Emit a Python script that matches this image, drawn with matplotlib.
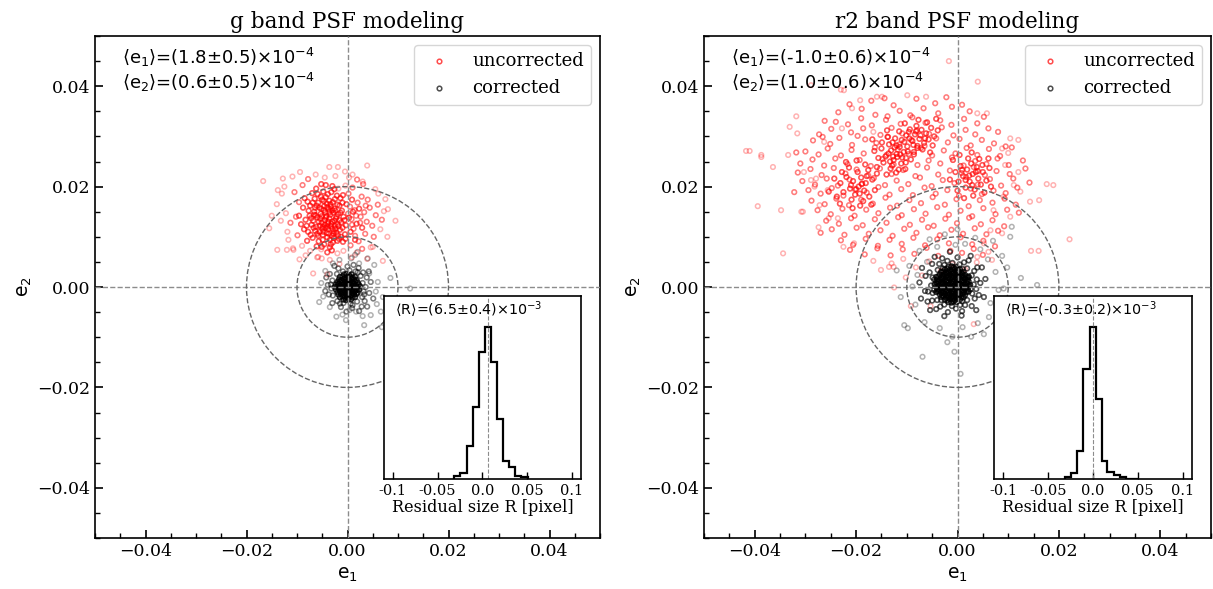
import numpy as np
import matplotlib
matplotlib.use("Agg")
import matplotlib.pyplot as plt
from matplotlib.patches import Circle
from matplotlib.ticker import MultipleLocator

plt.rcParams["font.family"] = "DejaVu Serif"
plt.rcParams["mathtext.fontset"] = "dejavusans"
plt.rcParams["axes.linewidth"] = 1.2

# ellipticities below in units of 1e-3
E_UNIT = 1e-3

# =========================
# g band
# =========================
g_unc_dense = [
    (-3.0, 13.0), (-4.2, 14.1), (-2.5, 12.2), (-5.1, 12.8), (-3.8, 11.5), (-1.9, 14.5), (-4.7, 15.3), (-3.3, 16.0),
    (-6.0, 13.9), (-2.2, 10.8), (-5.5, 11.0), (-4.0, 9.9), (-1.2, 12.9), (-6.6, 15.0), (-3.6, 17.2), (-2.8, 14.8),
    (-4.5, 13.3), (-5.8, 16.8), (-2.0, 16.4), (-7.1, 12.4), (-3.1, 10.2), (-4.9, 10.4), (-1.5, 11.4), (-6.4, 11.2),
    (-3.9, 12.6), (-2.6, 15.6), (-5.3, 14.6), (-0.8, 14.0), (-7.5, 14.2), (-4.3, 17.9), (-1.0, 16.8), (-6.9, 9.8),
    (-2.9, 8.9), (-4.6, 8.5), (-0.5, 10.5), (-3.4, 14.4), (-5.0, 17.4), (-2.3, 13.6), (-6.2, 12.0), (-3.7, 15.5),
    (-4.4, 11.8), (-1.7, 9.6), (-5.7, 9.1), (-7.8, 11.0), (-8.3, 13.4), (-2.1, 18.2), (-0.3, 12.3), (-6.5, 17.6),
    (-3.2, 18.9), (-4.8, 19.0), (-7.4, 16.2), (-8.8, 15.8), (-1.4, 17.7), (-5.9, 18.5), (-3.5, 7.9), (-2.4, 11.6),
    (-4.1, 16.6), (-6.8, 13.2), (-5.4, 13.6), (-1.1, 15.2), (-7.0, 18.7), (-3.0, 20.1), (-5.2, 20.5), (-8.5, 17.7),
    (-9.2, 12.5), (-0.9, 9.0), (-2.7, 9.8), (-6.1, 8.1), (-4.0, 6.9), (-8.0, 9.2), (-3.6, 13.7), (-4.9, 12.0),
    (-2.7, 11.1), (-3.3, 12.1), (-4.1, 10.8), (-5.6, 15.8), (-2.9, 16.9), (-4.4, 14.9), (-3.8, 13.0), (-5.0, 11.6),
    (-6.3, 14.3), (-2.0, 12.5), (-3.5, 9.4), (-4.6, 16.1), (-1.6, 13.3), (-5.8, 10.2), (-3.0, 15.3), (-6.9, 16.8),
    (-3.2, 12.6), (-4.5, 12.4), (-2.2, 14.0), (-5.7, 13.0), (-3.7, 10.6), (-1.4, 14.8), (-4.0, 15.9), (-2.5, 17.5),
    (-6.4, 15.8), (-4.9, 9.4), (-2.0, 9.2), (-6.0, 10.6), (-7.2, 13.7), (-0.6, 13.3), (-3.9, 18.5), (-5.3, 18.0),
    (-1.6, 16.2), (-7.7, 15.2), (-4.8, 11.0), (-3.0, 11.6), (-2.6, 13.2), (-4.3, 13.8), (-5.2, 15.6), (-3.4, 16.5),
    (-6.7, 11.8), (-1.9, 10.3), (-5.5, 12.2), (-3.6, 14.9), (-2.8, 10.6), (-4.7, 17.1), (-7.3, 10.4), (-1.0, 11.8),
    (-6.1, 16.2), (-2.4, 15.2), (-3.3, 8.5), (-5.1, 14.1), (-4.0, 12.0), (-6.6, 14.4), (-1.3, 10.0), (-8.1, 12.2),
    (0.3, 13.8), (1.1, 15.0), (0.6, 11.0), (1.8, 12.6), (-0.2, 16.5), (2.3, 15.6), (0.9, 17.4), (-0.4, 9.6),
    (1.5, 9.4), (2.9, 11.8), (-1.8, 12.1), (-0.9, 18.3), (-2.6, 19.5), (-7.9, 17.0), (-9.6, 14.2), (-8.6, 11.5),
    (-6.2, 19.6), (-4.3, 20.3), (-3.1, 7.3), (-5.1, 8.0),
]
g_unc_mid = [
    (0.8, 13.5), (1.7, 14.2), (2.5, 12.8), (1.2, 11.6), (3.3, 14.9), (0.5, 16.0), (2.0, 16.8), (3.8, 13.0),
    (1.5, 10.2), (4.4, 15.8), (2.8, 18.0), (0.2, 18.6), (4.9, 12.2), (3.5, 10.6), (1.0, 19.8), (5.6, 14.3),
    (2.2, 9.1), (4.0, 17.4), (0.6, 8.3), (6.0, 16.4), (5.2, 10.0), (3.1, 20.5), (1.9, 21.4), (6.8, 13.4),
    (2.9, 7.6), (1.4, 15.3), (2.6, 14.0), (0.9, 12.4), (3.6, 16.2), (0.1, 14.6),
    (-10.2, 14.0), (-9.6, 16.9), (-11.3, 12.8), (-10.5, 18.9), (-9.9, 10.3), (-8.9, 20.3), (-7.8, 21.5),
]
g_unc_sparse = [
    (-12.2, 14.7), (-11.7, 9.4), (-6.3, 22.4), (-4.5, 21.8), (-2.4, 22.1), (-13.2, 13.2), (-10.8, 7.7),
    (-8.3, 6.3), (-6.0, 5.9), (-5.2, 7.5), (-2.0, 6.7), (-0.8, 7.2), (0.9, 5.9), (1.8, 6.8), (3.9, 5.6),
    (4.6, 7.9), (-1.6, 4.6), (-9.0, 8.2), (-7.4, 7.2), (-11.9, 11.0), (7.9, 10.0), (7.2, 15.1), (6.1, 18.6),
    (-13.8, 19.3), (-15.0, 14.2), (-12.8, 21.6), (0.3, 21.8), (-0.4, 20.2), (-1.8, 19.6),
    (-16.7, 21.1), (-10.9, 22.0), (-9.4, 22.9), (-3.6, 23.9), (-1.9, 23.9), (3.9, 24.2), (9.5, 13.2),
    (-15.5, 11.7), (-13.9, 7.4), (-12.0, 7.4), (7.0, 5.2), (-5.8, 6.0), (-3.5, 5.4), (-0.5, 23.0), (1.0, 22.4),
    (3.0, 21.0), (-12.5, 20.0), (-13.0, 18.6), (-14.0, 16.5), (8.0, 15.5), (7.5, 17.5), (5.5, 19.5), (6.5, 11.5),
    (5.0, 8.0), (-9.5, 5.5), (-6.8, 2.7), (-5.1, 5.7), (-10.7, 7.4), (-0.5, 1.5), (-4.0, 2.5),
]
g_cor_core = [
    (-0.8, -2.5), (-0.3, -2.6), (0.2, -2.4), (0.7, -2.5),
    (-1.5, -2.0), (-1.0, -1.9), (-0.5, -2.1), (0.0, -2.0), (0.5, -1.9), (1.0, -2.1), (1.5, -2.0),
    (-1.8, -1.5), (-1.3, -1.4), (-0.8, -1.6), (-0.2, -1.5), (0.3, -1.4), (0.8, -1.6), (1.3, -1.5), (1.8, -1.4),
    (-2.0, -1.0), (-1.5, -0.9), (-1.0, -1.1), (-0.5, -1.0), (0.0, -0.9), (0.5, -1.1), (1.0, -1.0), (1.5, -0.9),
    (2.0, -1.1),
    (-2.3, -0.5), (-1.7, -0.4), (-1.2, -0.6), (-0.7, -0.5), (-0.2, -0.4), (0.3, -0.6), (0.8, -0.5), (1.3, -0.4),
    (1.8, -0.6), (2.3, -0.5),
    (-2.5, 0.0), (-2.0, 0.1), (-1.5, -0.1), (-1.0, 0.0), (-0.5, 0.1), (0.0, -0.1), (0.5, 0.0), (1.0, 0.1),
    (1.5, -0.1), (2.0, 0.0), (2.5, 0.1),
    (-2.3, 0.5), (-1.8, 0.6), (-1.3, 0.4), (-0.8, 0.5), (-0.3, 0.6), (0.2, 0.4), (0.7, 0.5), (1.2, 0.6),
    (1.7, 0.4), (2.2, 0.5),
    (-2.0, 1.0), (-1.5, 1.1), (-1.0, 0.9), (-0.5, 1.0), (0.0, 1.1), (0.5, 0.9), (1.0, 1.0), (1.5, 1.1), (2.0, 0.9),
    (-1.7, 1.5), (-1.2, 1.4), (-0.7, 1.6), (-0.2, 1.5), (0.3, 1.4), (0.8, 1.6), (1.3, 1.5), (1.8, 1.4),
    (-1.5, 2.0), (-1.0, 2.1), (-0.5, 1.9), (0.0, 2.0), (0.5, 2.1), (1.0, 1.9), (1.5, 2.0),
    (-0.7, 2.5), (-0.2, 2.6), (0.3, 2.4), (0.8, 2.5),
]
g_cor_edge = [
    (3.0, 0.8), (3.2, -0.9), (2.9, -2.0), (2.6, 2.2), (1.6, 3.1), (0.4, 3.3), (-0.9, 3.1), (-2.1, 2.6),
    (-3.0, 1.3), (-3.2, -0.3), (-2.9, -1.7), (-2.0, -2.8), (-0.8, -3.2), (0.6, -3.3), (1.9, -2.9), (3.6, 0.0),
    (3.8, 1.9), (3.4, -2.8), (2.2, 3.8), (0.0, 4.1), (-1.8, 3.7), (-3.5, 2.6), (-3.9, 0.4), (-3.7, -1.5),
    (-3.0, -3.2), (-1.3, -4.0), (0.9, -4.2), (2.8, -3.9), (4.3, -1.2), (4.6, 1.0), (3.9, -3.9), (-4.4, -0.8),
    (1.2, 4.4), (-2.6, 4.2), (4.2, 3.1), (2.3, -4.8), (-0.2, -4.9), (5.1, -2.3), (-4.2, 1.9), (3.1, 2.9),
    (-3.3, 0.5), (3.3, -1.5), (-1.5, -3.3), (1.0, -3.6), (2.0, 2.9),
]
g_cor_sparse = [
    (-2.9, 4.7), (-1.6, 5.4), (0.7, 5.7), (2.3, 4.7), (4.0, 5.7), (5.3, 4.4), (4.3, 2.7), (5.6, -0.9),
    (-4.8, -1.9), (-0.3, -6.6), (1.7, -4.9), (4.6, -5.6), (6.6, -4.9), (3.3, -7.6), (0.4, -4.6), (12.4, -0.3),
    (7.0, -2.0), (-5.2, 0.8), (-4.4, 3.2), (2.0, 7.0), (8.5, 1.8), (-1.0, -5.5), (6.0, 1.0), (3.0, -5.8),
    (-3.5, -4.0), (6.8, -8.0), (-5.6, -3.0), (5.8, -3.4), (-2.2, -5.9), (1.5, 6.4),
]
g_e1_text = r"$\langle$e$_1\rangle$=(1.8$\pm$0.5)$\times$10$^{-4}$"
g_e2_text = r"$\langle$e$_2\rangle$=(0.6$\pm$0.5)$\times$10$^{-4}$"
g_R_text = r"$\langle$R$\rangle$=(6.5$\pm$0.4)$\times$10$^{-3}$"
g_R_mean = 6.5e-3
g_R_counts = [8, 17, 98, 215, 382, 457, 350, 180, 55, 35, 10, 5]

# =========================
# r2 band
# =========================
r2_unc_dense = [
    (-12.0, 26.5), (-13.1, 27.2), (-10.9, 25.8), (-12.6, 25.3), (-11.4, 27.9), (-14.2, 26.0), (-9.8, 27.0),
    (-13.5, 28.4), (-10.5, 28.9), (-12.9, 24.2), (-11.1, 24.6), (-15.0, 27.6), (-9.2, 25.4), (-14.6, 24.8),
    (-12.3, 29.6), (-10.1, 30.2), (-15.6, 25.7), (-8.7, 28.3), (-13.8, 29.9), (-11.6, 23.4), (-12.4, 27.8),
    (-11.9, 25.9), (-13.6, 26.6), (-10.6, 26.9), (-12.8, 28.8), (-11.0, 29.3), (-14.9, 28.8), (-9.5, 29.6),
    (-13.2, 23.6), (-16.4, 27.1), (-12.1, 22.8), (-10.3, 23.5), (-14.0, 22.4), (-8.6, 26.4), (-15.9, 23.9),
    (-11.5, 31.0), (-13.9, 31.2), (-9.4, 31.4), (-16.8, 29.4), (-7.9, 27.7), (-12.7, 26.0), (-11.3, 26.4),
    (-13.3, 25.0), (-10.2, 24.8), (-12.0, 28.2),
    (-19.5, 20.0), (-20.6, 21.1), (-18.4, 19.2), (-21.2, 19.6), (-19.0, 21.8), (-18.1, 20.7), (-20.2, 18.4),
    (-21.9, 21.9), (-17.4, 18.0), (-19.7, 22.9), (-22.5, 18.9), (-18.6, 17.1), (-20.9, 17.4), (-16.8, 21.4),
    (-23.1, 20.7), (-17.6, 23.3), (-21.4, 23.8), (-19.2, 16.2), (-22.8, 22.9), (-16.3, 19.3), (-20.0, 19.5),
    (-18.9, 20.5), (-21.0, 20.3), (-19.3, 18.6), (-17.9, 22.1), (-23.8, 18.0), (-20.7, 15.7), (-24.3, 21.6),
    (-15.9, 22.6), (-18.2, 24.4), (-22.0, 24.9), (-19.9, 25.2), (-17.0, 16.4), (-23.2, 16.6), (-25.4, 19.0),
    (-7.5, 29.5), (-8.4, 30.4), (-6.6, 28.7), (-7.9, 28.1), (-6.2, 30.6), (-8.9, 29.1), (-5.7, 29.4),
    (-7.1, 31.3), (-9.6, 30.9), (-6.9, 27.4), (-5.2, 31.7), (-8.1, 32.1), (-4.6, 30.0), (-9.9, 28.0),
    (-6.0, 32.8), (-7.7, 33.3), (-4.9, 28.2), (-8.6, 26.9), (-10.4, 32.6), (-5.4, 26.8), (-7.3, 30.2),
    (-6.4, 29.6), (-8.2, 31.0), (-3.9, 31.2), (-4.2, 33.5),
    (3.0, 22.5), (1.9, 23.4), (4.1, 21.6), (2.4, 21.0), (3.8, 23.9), (1.1, 22.1), (5.0, 22.9), (2.7, 24.6),
    (0.6, 24.1), (4.6, 20.4), (1.6, 19.8), (3.4, 19.4), (5.7, 21.2), (0.2, 21.0), (2.1, 25.6), (4.3, 25.5),
    (6.3, 23.7), (-0.4, 22.9), (3.1, 18.2), (5.3, 18.8), (1.3, 17.7), (0.0, 19.2), (6.6, 20.0), (2.8, 26.8),
    (-0.9, 25.3), (3.6, 22.9), (2.3, 22.2), (1.6, 21.3), (4.0, 23.1), (2.9, 20.3), (0.9, 23.3), (4.9, 24.3),
    (6.1, 25.6), (-1.5, 21.4), (0.4, 26.3),
]
r2_unc_mid = [
    (-21.3, 36.4), (-17.0, 37.1), (-12.6, 36.2), (-8.1, 37.5), (-4.4, 36.6), (-2.2, 37.8), (0.9, 36.3), (-14.4, 37.6),
    (-23.5, 34.8), (-18.9, 35.5), (-16.2, 34.3), (-11.4, 35.1), (-9.3, 34.2), (-6.7, 35.6), (-3.8, 34.6),
    (-1.1, 35.9), (2.4, 35.0), (-13.8, 34.0),
    (-26.2, 33.1), (-21.6, 32.4), (-19.0, 33.6), (-16.9, 32.2), (-14.1, 33.3), (-11.2, 32.5), (-8.9, 33.8),
    (-6.3, 32.7), (-3.4, 33.2), (-1.2, 32.3), (1.3, 33.5), (3.9, 32.6), (5.2, 33.9), (-24.0, 32.9),
    (-27.3, 30.4), (-24.9, 31.5), (-21.0, 30.8), (-18.6, 31.6), (-15.2, 30.3), (-13.0, 31.7), (-10.9, 30.6),
    (-8.0, 31.2), (-5.6, 30.5), (-3.1, 31.8), (-0.8, 30.2), (1.6, 31.3), (3.5, 30.4), (6.1, 31.6), (8.0, 30.9),
    (-19.7, 30.1),
    (-28.5, 29.2), (-25.1, 28.5), (-23.3, 29.7), (-20.8, 28.3), (-18.2, 29.4), (-16.0, 28.7), (-13.7, 29.9),
    (-11.5, 28.4), (-9.1, 29.3), (-6.5, 28.1), (-4.2, 29.6), (-1.9, 28.8), (0.4, 29.5), (2.6, 28.2), (4.8, 29.3),
    (7.2, 28.6), (9.5, 28.0), (-26.6, 29.9),
    (-30.0, 27.0), (-27.4, 26.4), (-25.6, 27.6), (-23.0, 26.2), (-20.9, 27.3), (-18.5, 26.6), (-16.3, 27.8),
    (-14.0, 26.3), (-11.8, 27.4), (-9.6, 26.5), (-7.2, 27.7), (-5.0, 26.2), (-2.7, 27.2), (-0.4, 26.6),
    (1.8, 27.7), (3.9, 26.3), (6.2, 27.5), (8.4, 26.1), (10.7, 27.8), (-31.8, 26.8),
    (-31.0, 24.6), (-28.6, 25.4), (-26.3, 24.2), (-24.1, 25.6), (-21.7, 24.5), (-19.3, 25.3), (-17.1, 24.1),
    (-14.8, 25.5), (-12.6, 24.4), (-10.2, 25.7), (-7.9, 24.3), (-5.7, 25.2), (-3.4, 24.6), (-1.1, 25.8),
    (1.2, 24.2), (3.5, 25.1), (5.7, 24.5), (7.9, 25.6), (10.1, 24.3), (12.9, 25.2),
    (-31.5, 22.8), (-29.0, 23.5), (-26.8, 22.3), (-24.4, 23.7), (-22.1, 22.6), (-19.9, 23.4), (-17.6, 22.2),
    (-15.3, 23.6), (-13.0, 22.5), (-10.7, 23.3), (-8.3, 22.1), (-6.0, 23.8), (-3.8, 22.4), (-1.5, 23.2),
    (0.8, 22.7), (3.2, 23.9), (5.4, 22.3), (7.7, 23.1), (10.3, 22.5), (13.4, 23.6),
    (-30.6, 21.1), (-28.1, 20.4), (-25.8, 21.6), (-23.6, 20.2), (-21.3, 21.4), (-18.8, 20.6), (-16.5, 21.7),
    (-14.3, 20.3), (-12.0, 21.2), (-9.7, 20.5), (-7.4, 21.8), (-5.1, 20.1), (-2.9, 21.3), (-0.6, 20.7),
    (1.7, 21.9), (4.0, 20.4), (6.4, 21.5), (8.6, 20.2), (11.0, 21.6), (14.2, 20.8),
    (-29.4, 19.3), (-27.0, 18.6), (-24.8, 19.7), (-22.5, 18.2), (-20.2, 19.4), (-17.9, 18.8), (-15.6, 19.9),
    (-13.4, 18.4), (-11.1, 19.5), (-8.8, 18.3), (-6.5, 19.8), (-4.3, 18.6), (-2.0, 19.3), (0.3, 18.2),
    (2.6, 19.6), (4.8, 18.5), (7.1, 19.2), (9.5, 18.7), (11.8, 19.8), (-32.2, 18.9),
    (-28.8, 17.2), (-26.2, 16.5), (-23.9, 17.6), (-21.4, 16.3), (-19.0, 17.4), (-16.7, 16.6), (-14.2, 17.8),
    (-11.9, 16.2), (-9.5, 17.3), (-7.2, 16.7), (-4.9, 17.9), (-2.5, 16.4), (-0.2, 17.5), (2.2, 16.1),
    (4.4, 17.3), (6.9, 16.8), (9.3, 17.6), (11.5, 16.4),
    (-27.6, 15.3), (-25.0, 14.5), (-22.7, 15.6), (-20.3, 14.2), (-18.0, 15.4), (-15.6, 14.7), (-13.3, 15.8),
    (-11.0, 14.3), (-8.6, 15.5), (-6.3, 14.6), (-4.0, 15.9), (-1.7, 14.4), (0.6, 15.2), (2.9, 14.1),
    (5.1, 15.7), (7.5, 14.5), (9.8, 15.4), (12.1, 14.8),
    (-25.9, 13.2), (-23.4, 12.6), (-21.0, 13.7), (-18.7, 12.3), (-16.3, 13.5), (-14.0, 12.8), (-11.7, 13.9),
    (-9.4, 12.4), (-7.0, 13.4), (-4.7, 12.2), (-2.4, 13.6), (-0.1, 12.7), (2.3, 13.8), (4.6, 12.5),
    (6.9, 13.3), (9.2, 12.1),
    (-24.8, 11.5), (-22.3, 10.4), (-19.9, 11.8), (-17.5, 10.6), (-15.2, 11.3), (-12.8, 10.2), (-10.5, 11.6),
    (-8.1, 10.8), (-5.8, 11.9), (-3.5, 10.3), (-1.2, 11.4), (1.1, 10.6), (3.4, 11.7), (5.7, 10.5),
    (8.0, 11.2), (-27.0, 10.8),
    (-23.0, 9.3), (-20.6, 8.4), (-18.1, 9.6), (-15.7, 8.2), (-13.4, 9.4), (-11.0, 8.6), (-8.7, 9.8),
    (-6.4, 8.3), (-4.0, 9.5), (-1.7, 8.7), (0.6, 9.9), (2.9, 8.5), (5.1, 9.2), (7.4, 8.1),
    (-21.2, 7.4), (-18.3, 6.5), (-15.8, 7.7), (-13.2, 6.3), (-10.8, 7.5), (-8.5, 6.6), (-6.1, 7.8),
    (-3.8, 6.2), (-1.4, 7.2), (0.9, 6.8), (3.2, 7.6), (5.0, 6.4),
]
r2_unc_outer = [
    (-16.6, 5.2), (-13.0, 4.7), (-10.7, 5.6), (-8.2, 3.9), (-5.6, 5.1), (-3.3, 3.2), (-1.0, 4.6), (1.5, 3.5),
    (3.8, 4.9), (-7.0, 2.3),
    (-41.7, 27.1), (-41.0, 27.1), (-38.7, 26.3), (-39.4, 16.1), (-34.4, 6.7), (-34.8, 15.3), (-36.4, 23.9),
    (-33.1, 31.9), (-31.8, 34.0), (-31.6, 30.6), (-1.7, 45.0), (4.0, 40.9), (-23.0, 39.3), (-28.9, 40.2),
    (22.1, 9.5), (17.6, 20.5), (18.9, 20.3), (16.1, 17.3), (14.5, 7.2), (16.0, 7.2), (12.0, 29.3),
    (10.4, 29.6), (5.8, 34.6), (3.9, 34.6), (-22.5, 8.0), (-27.4, 11.9), (-30.8, 15.0), (-15.1, 3.4),
    (-13.5, 4.0), (-12.6, 4.0), (-20.4, 8.7), (-12.5, -0.1), (-10.2, 1.9), (-9.2, -3.8), (-5.3, -3.8),
    (3.2, -7.4), (6.1, 7.0), (-30.3, 22.9), (-28.9, 21.3), (-27.9, 21.6), (-28.2, 20.0), (-27.2, 16.3),
    (-26.3, 28.9), (-25.6, 19.3), (-25.4, 13.7), (-23.6, 13.7), (-22.8, 31.6), (-20.8, 35.6), (-22.4, 39.2),
    (-19.2, 37.2), (-15.9, 37.9), (-14.9, 37.9), (-9.9, 38.2), (-6.2, 37.9), (-16.6, 30.9), (-30.5, 15.0),
    (-33.4, 26.3), (-38.7, 25.9), (8.8, 27.6), (10.0, 26.7), (9.4, 24.3), (12.0, 22.9), (11.1, 20.3),
    (12.4, 19.0), (14.3, 17.0), (9.1, 18.0), (7.1, 15.3), (10.4, 14.0), (8.8, 10.7), (6.5, 11.3),
    (5.2, 8.7), (6.8, 5.4), (3.9, 6.0),
]
r2_cor_core = [
    (-1.8, -3.0), (-1.2, -3.1), (-0.8, -2.9), (-0.2, -3.0),
    (-2.5, -2.5), (-2.0, -2.6), (-1.5, -2.4), (-1.0, -2.5), (-0.5, -2.6), (0.0, -2.4), (0.5, -2.5),
    (-3.2, -2.0), (-2.8, -1.9), (-2.2, -2.1), (-1.8, -2.0), (-1.2, -1.9), (-0.8, -2.1), (-0.2, -2.0),
    (0.2, -1.9), (0.8, -2.1), (1.2, -2.0),
    (-3.5, -1.5), (-3.0, -1.6), (-2.5, -1.4), (-2.0, -1.5), (-1.5, -1.6), (-1.0, -1.4), (-0.5, -1.5),
    (0.0, -1.6), (0.5, -1.4), (1.0, -1.5), (1.5, -1.6),
    (-4.2, -1.0), (-3.8, -0.9), (-3.2, -1.1), (-2.8, -1.0), (-2.2, -0.9), (-1.8, -1.1), (-1.2, -1.0),
    (-0.8, -0.9), (-0.2, -1.1), (0.2, -1.0), (0.8, -0.9), (1.2, -1.1), (1.8, -1.0), (2.2, -0.9),
    (-4.0, -0.5), (-3.5, -0.6), (-3.0, -0.4), (-2.5, -0.5), (-2.0, -0.6), (-1.5, -0.4), (-1.0, -0.5),
    (-0.5, -0.6), (0.0, -0.4), (0.5, -0.5), (1.0, -0.6), (1.5, -0.4), (2.0, -0.5),
    (-4.2, 0.0), (-3.8, 0.1), (-3.2, -0.1), (-2.8, 0.0), (-2.2, 0.1), (-1.8, -0.1), (-1.2, 0.0),
    (-0.8, 0.1), (-0.2, -0.1), (0.2, 0.0), (0.8, 0.1), (1.2, -0.1), (1.8, 0.0), (2.2, 0.1),
    (-4.5, 0.5), (-4.0, 0.6), (-3.5, 0.4), (-3.0, 0.5), (-2.5, 0.6), (-2.0, 0.4), (-1.5, 0.5), (-1.0, 0.6),
    (-0.5, 0.4), (0.0, 0.5), (0.5, 0.6), (1.0, 0.4), (1.5, 0.5), (2.0, 0.6), (2.5, 0.4),
    (-4.2, 1.0), (-3.8, 1.1), (-3.2, 0.9), (-2.8, 1.0), (-2.2, 1.1), (-1.8, 0.9), (-1.2, 1.0),
    (-0.8, 1.1), (-0.2, 0.9), (0.2, 1.0), (0.8, 1.1), (1.2, 0.9), (1.8, 1.0), (2.2, 1.1),
    (-4.0, 1.5), (-3.5, 1.4), (-3.0, 1.6), (-2.5, 1.5), (-2.0, 1.4), (-1.5, 1.6), (-1.0, 1.5),
    (-0.5, 1.4), (0.0, 1.6), (0.5, 1.5), (1.0, 1.4), (1.5, 1.6), (2.0, 1.5),
    (-4.2, 2.0), (-3.8, 2.1), (-3.2, 1.9), (-2.8, 2.0), (-2.2, 2.1), (-1.8, 1.9), (-1.2, 2.0),
    (-0.8, 2.1), (-0.2, 1.9), (0.2, 2.0), (0.8, 2.1), (1.2, 1.9), (1.8, 2.0), (2.2, 2.1),
    (-3.5, 2.5), (-3.0, 2.4), (-2.5, 2.6), (-2.0, 2.5), (-1.5, 2.4), (-1.0, 2.6), (-0.5, 2.5),
    (0.0, 2.4), (0.5, 2.6), (1.0, 2.5), (1.5, 2.4),
    (-3.2, 3.0), (-2.8, 3.1), (-2.2, 2.9), (-1.8, 3.0), (-1.2, 3.1), (-0.8, 2.9), (-0.2, 3.0),
    (0.2, 3.1), (0.8, 2.9), (1.2, 3.0),
    (-2.5, 3.5), (-2.0, 3.6), (-1.5, 3.4), (-1.0, 3.5), (-0.5, 3.6), (0.0, 3.4), (0.5, 3.5),
    (-1.8, 4.0), (-1.2, 4.1), (-0.8, 3.9), (-0.2, 4.0),
]
r2_cor_edge = [
    (3.2, 0.5), (2.8, 2.3), (1.9, 3.7), (0.4, 4.5), (-1.0, 4.8), (-2.6, 4.4), (-3.9, 3.4), (-4.9, 1.9),
    (-5.2, 0.3), (-4.9, -1.2), (-4.0, -2.6), (-2.6, -3.5), (-1.1, -3.8), (0.5, -3.6), (1.9, -2.6), (2.9, -1.3),
    (3.8, 1.5), (3.3, 3.2), (1.3, 4.9), (-2.0, 5.2), (-3.6, 4.6), (-5.5, 2.9), (-5.8, -0.9), (-5.0, -2.7),
    (-3.4, -3.9), (-0.3, -4.3), (1.5, -3.6), (3.4, -2.3), (3.7, -0.4),
    (4.5, 0.8), (3.9, 3.9), (2.2, 5.3), (0.0, 5.9), (-3.0, 5.7), (-5.0, 4.6), (-6.3, 2.2), (-6.4, -0.8),
    (-5.9, -2.9), (-4.2, -4.4), (-1.9, -5.0), (0.9, -4.8), (2.8, -3.8), (4.2, -1.6),
    (5.5, 1.6), (4.8, 3.9), (2.6, 6.2), (-1.5, 7.0), (-4.5, 6.0), (-7.0, 3.8), (-7.5, 0.9), (-7.2, -2.3),
    (-5.4, -4.6), (-2.6, -5.8), (0.8, -5.7), (3.7, -4.6), (5.2, -2.0),
    (2.6, -0.4), (2.2, 1.9), (1.0, 3.6), (-2.9, 3.7), (-4.6, 1.5), (-4.6, -0.6), (-3.2, -2.6), (0.9, -2.8),
]
r2_cor_sparse = [
    (-10.5, -7.6), (-9.8, -8.2), (-6.9, -13.9), (-0.6, -12.9), (0.6, -17.3), (-1.0, -9.9), (2.7, -9.9),
    (-6.0, 5.0), (-7.9, 2.4), (-8.9, 0.1), (8.1, -0.6), (9.1, -0.3), (6.5, -3.2), (-0.4, 8.4), (10.7, 12.0),
    (10.4, 10.0), (15.7, 0.4), (-7.5, 7.2), (-4.0, 8.0), (1.5, 8.6), (4.5, 7.5), (6.0, 5.5), (7.5, 3.0),
    (-9.5, 4.2), (-8.3, -3.5), (-6.5, -7.0), (-3.5, -8.2), (1.0, -8.0), (4.0, -7.2), (6.2, -6.0),
    (7.8, -2.8), (-11.2, -2.0), (-2.0, -11.0), (3.5, 9.8), (-2.5, 10.5), (8.8, 6.2), (5.2, -9.4),
    (-12.0, 3.3), (12.5, 1.8), (9.8, 3.9), (0.0, 11.5), (-5.5, 9.5), (7.0, 9.2),
]
r2_e1_text = r"$\langle$e$_1\rangle$=(-1.0$\pm$0.6)$\times$10$^{-4}$"
r2_e2_text = r"$\langle$e$_2\rangle$=(1.0$\pm$0.6)$\times$10$^{-4}$"
r2_R_text = r"$\langle$R$\rangle$=(-0.3$\pm$0.2)$\times$10$^{-3}$"
r2_R_mean = -0.3e-3
r2_R_counts = [5, 17, 83, 330, 455, 240, 55, 20, 12, 5, 0, 0]

# residual size histogram bin edges [pixel], shared by both bands
R_edges = [-0.0311, -0.0244, -0.0173, -0.0106, -0.0032, 0.0032, 0.0099, 0.0162,
           0.0236, 0.0303, 0.0370, 0.0434, 0.0508]
R_ticks = [-0.1, -0.05, 0.0, 0.05, 0.1]
R_ticklabels = ["-0.1", "-0.05", "0.0", "0.05", "0.1"]


def stack_points(groups):
    # each group: (list of (e1, e2), how many stars sit on each listed spot)
    arr = np.vstack([np.repeat(np.asarray(p, dtype=float), n, axis=0) for p, n in groups])
    return arr[:, 0] * E_UNIT, arr[:, 1] * E_UNIT


def draw_panel(ax, title, unc, cor, e1_text, e2_text, R_counts, R_mean, R_text):
    pt_kw = dict(s=11, facecolors="none", linewidths=1.1, alpha=0.3)
    ax.scatter(*unc, edgecolors="red", label="uncorrected", zorder=2, **pt_kw)
    ax.scatter(*cor, edgecolors="black", label="corrected", zorder=2.1, **pt_kw)

    ax.axhline(0, color="0.55", ls="--", lw=1.0, zorder=3)
    ax.axvline(0, color="0.55", ls="--", lw=1.0, zorder=3)
    for r in (0.01, 0.02):
        ax.add_patch(Circle((0, 0), r, fill=False, ec="0.4", ls="--", lw=1.0, zorder=3))

    ax.set_xlim(-0.05, 0.05)
    ax.set_ylim(-0.05, 0.05)
    for axis in (ax.xaxis, ax.yaxis):
        axis.set_major_locator(MultipleLocator(0.02))
        axis.set_minor_locator(MultipleLocator(0.005))
    ax.tick_params(which="both", direction="in", top=False, right=False, labelsize=12.5)
    ax.tick_params(which="major", length=6, width=1.2)
    ax.tick_params(which="minor", length=3.5, width=1.0)
    ax.set_xlabel(r"$\mathrm{e_1}$", fontsize=13.5)
    ax.set_ylabel(r"$\mathrm{e_2}$", fontsize=13.5, labelpad=2)
    ax.set_title(title, fontsize=15.5)

    ax.text(0.053, 0.958, e1_text, transform=ax.transAxes, va="center", ha="left",
            fontsize=13, family="DejaVu Sans")
    ax.text(0.053, 0.908, e2_text, transform=ax.transAxes, va="center", ha="left",
            fontsize=13, family="DejaVu Sans")

    leg = ax.legend(loc="upper right", fontsize=13, borderaxespad=0.5)
    for h in leg.legend_handles:
        h.set_alpha(0.7)

    axin = ax.inset_axes([0.572, 0.1175, 0.390, 0.364])
    axin.set_facecolor("white")
    axin.stairs(R_counts, R_edges, color="black", lw=1.6)
    axin.axvline(R_mean, color="0.55", ls="--", lw=0.8)
    axin.set_xlim(-0.11, 0.11)
    axin.set_ylim(0, max(R_counts) * 1.2)
    axin.set_yticks([])
    axin.set_xticks(R_ticks)
    axin.set_xticklabels(R_ticklabels)
    axin.tick_params(direction="in", length=5, width=1.0, labelsize=10.5, top=False)
    axin.set_xlabel("Residual size R [pixel]", fontsize=11.6, labelpad=1)
    axin.text(0.055, 0.925, R_text, transform=axin.transAxes, va="center", ha="left",
              fontsize=10.3, family="DejaVu Sans")


def main():
    fig = plt.figure(figsize=(12.13, 5.89), dpi=100)
    ax_g = fig.add_axes([95 / 1213, 51 / 589, 505 / 1213, 502 / 589])
    ax_r = fig.add_axes([704 / 1213, 51 / 589, 507 / 1213, 502 / 589])

    g_unc = stack_points([(g_unc_sparse, 1), (g_unc_mid, 2), (g_unc_dense, 3)])
    g_cor = stack_points([(g_cor_sparse, 1), (g_cor_edge, 2), (g_cor_core, 4)])
    r2_unc = stack_points([(r2_unc_outer, 1), (r2_unc_mid, 2), (r2_unc_dense, 3)])
    r2_cor = stack_points([(r2_cor_sparse, 1), (r2_cor_edge, 3), (r2_cor_core, 4)])

    draw_panel(ax_g, "g band PSF modeling", g_unc, g_cor, g_e1_text, g_e2_text,
               g_R_counts, g_R_mean, g_R_text)
    draw_panel(ax_r, "r2 band PSF modeling", r2_unc, r2_cor, r2_e1_text, r2_e2_text,
               r2_R_counts, r2_R_mean, r2_R_text)

    fig.savefig("out.png", dpi=100)
    plt.close(fig)


if __name__ == "__main__":
    main()
